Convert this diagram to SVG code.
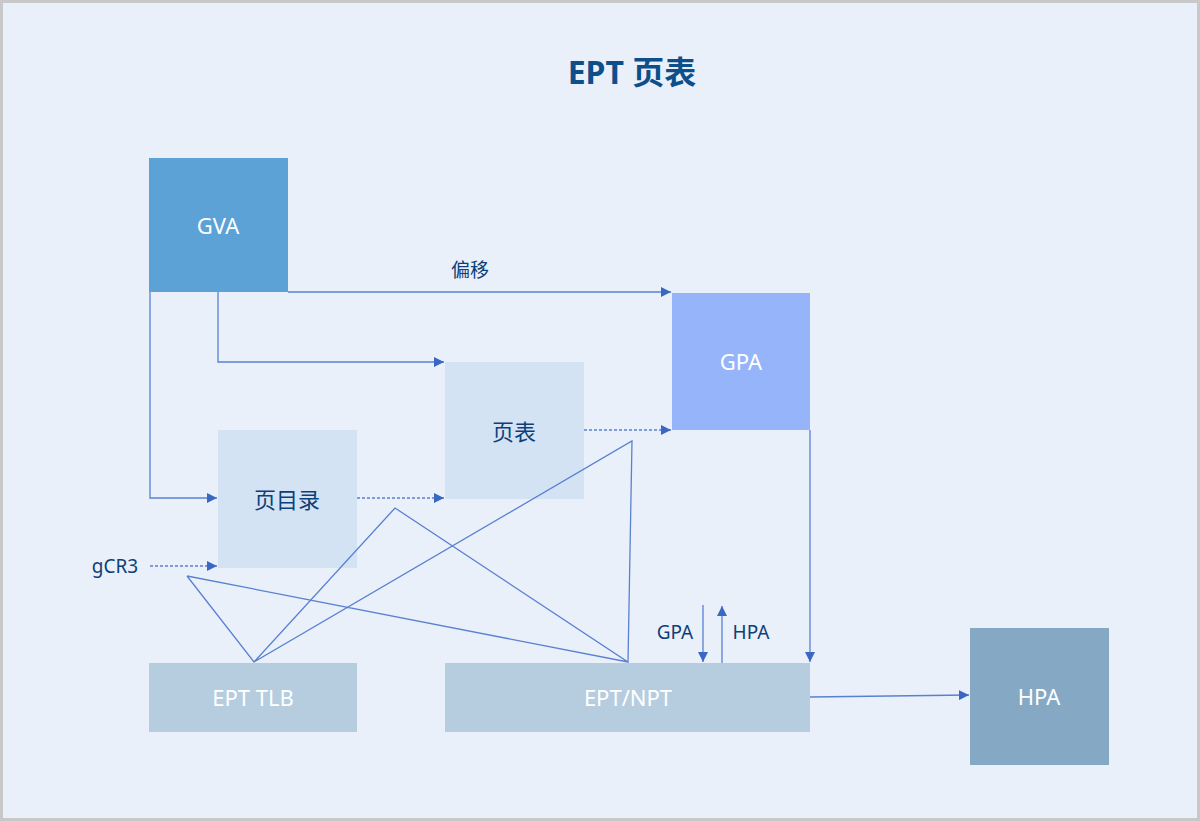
<svg xmlns="http://www.w3.org/2000/svg" width="1200" height="821" viewBox="0 0 1200 821">
<defs>
<marker id="ah" viewBox="0 0 10 10" refX="10" refY="5" markerWidth="10" markerHeight="10" markerUnits="userSpaceOnUse" orient="auto">
<path d="M0,0 L10,5 L0,10 z" fill="#3a66c4"/>
</marker>
<style>
text{font-family:"Noto Sans","Noto Sans CJK SC",sans-serif;}
.nt{font-size:22px;text-anchor:middle;dominant-baseline:central;}
.w{fill:#ffffff;}
.d{fill:#0d3f7a;}
.lb{font-size:19px;fill:#0d3f7a;text-anchor:middle;dominant-baseline:central;}
.c{fill:none;stroke:#5a80d2;stroke-width:1.3;}
.ds{stroke-dasharray:3,2;}
</style>
</defs>
<rect x="1.5" y="1.5" width="1197" height="818" fill="#e9f0f9" stroke="#c8c8c8" stroke-width="3"/>
<text x="632" y="71" font-size="32" font-weight="bold" fill="#0d4f8b" text-anchor="middle" dominant-baseline="central">EPT 页表</text>

<g id="gva"><rect x="149" y="158" width="139" height="134" fill="#5ca2d6"/><text class="nt w" x="218" y="225">GVA</text></g>
<g id="gpa"><rect x="672" y="293" width="138" height="137" fill="#96b4fa"/><text class="nt w" x="741" y="361">GPA</text></g>
<g id="pt"><rect x="445" y="362" width="139" height="137" fill="#d3e3f4"/><text class="nt d" x="514" y="431">页表</text></g>
<g id="pd"><rect x="218" y="430" width="139" height="138" fill="#d3e3f4"/><text class="nt d" x="287" y="499">页目录</text></g>
<g id="tlb"><rect x="149" y="663" width="208" height="69" fill="#b6cde0"/><text class="nt w" x="253" y="697">EPT TLB</text></g>
<g id="npt"><rect x="445" y="663" width="365" height="69" fill="#b6cde0"/><text class="nt w" x="628" y="697">EPT/NPT</text></g>
<g id="hpa"><rect x="970" y="628" width="139" height="137" fill="#85a9c5"/><text class="nt w" x="1039" y="696">HPA</text></g>

<g id="connectors">
<path class="c" d="M288,292 H671" marker-end="url(#ah)"/>
<path class="c" d="M218,292 V362 H444" marker-end="url(#ah)"/>
<path class="c" d="M150,292 V498 H217" marker-end="url(#ah)"/>
<path class="c ds" d="M357,498 H444" marker-end="url(#ah)"/>
<path class="c ds" d="M584,430 H671" marker-end="url(#ah)"/>
<path class="c ds" d="M150,566 H217" marker-end="url(#ah)"/>
<path class="c" d="M810,430 V662" marker-end="url(#ah)"/>
<path class="c" d="M810,697 L969,695" marker-end="url(#ah)"/>
<path class="c" d="M703,605 V662" marker-end="url(#ah)"/>
<path class="c" d="M722,663 V606" marker-end="url(#ah)"/>
<path class="c" stroke-width="1" d="M187,576 L254,662 L395,508 L628,662 L632,441 L254,662 M187,576 L628,662"/>
<text class="lb" x="470" y="270">偏移</text>
<text class="lb" x="115" y="566">gCR3</text>
<text class="lb" x="675" y="632">GPA</text>
<text class="lb" x="751" y="632">HPA</text>
</g>
</svg>
